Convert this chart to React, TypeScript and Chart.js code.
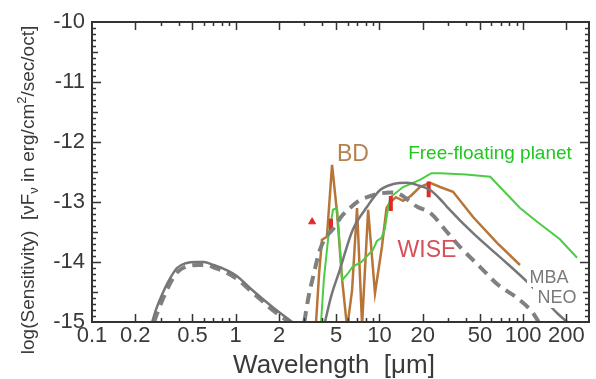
import React, { useEffect, useRef } from "react";
import { Chart, registerables } from "chart.js";
Chart.register(...registerables);

const FONT = "'Liberation Sans', Arial, Helvetica, sans-serif";

const xTickValues = [0.1, 0.2, 0.5, 1, 2, 5, 10, 20, 50, 100, 200];
const xTickLabels = ["0.1", "0.2", "0.5", "1", "2", "5", "10", "20", "50", "100", "200"];
const yTickValues = [-15, -14, -13, -12, -11, -10];

// MBA (solid gray)
const mbaReflLam = [0.262, 0.28, 0.31, 0.35, 0.39, 0.45, 0.53, 0.6, 0.7, 0.8, 1.0, 1.32, 1.8, 2.47];
const mbaReflVal = [-15, -14.78, -14.52, -14.27, -14.1, -14.02, -14.0, -14.0, -14.05, -14.1, -14.22, -14.48, -14.75, -15];
const mbaThermLam = [4.18, 4.6, 5.3, 6.5, 8.2, 10.1, 12.5, 15.6, 19, 22.5, 26.4, 29.5, 44.8, 77, 112, 172, 202];
const mbaThermVal = [-15, -14.58, -14.13, -13.47, -13.08, -12.8, -12.7, -12.68, -12.73, -12.8, -12.95, -13.08, -13.52, -14.02, -14.38, -14.85, -15];

// NEO (dashed gray)
const neoReflLam = [0.27, 0.29, 0.32, 0.36, 0.4, 0.46, 0.55, 0.62, 0.72, 0.82, 1.0, 1.3, 1.8, 2.35];
const neoReflVal = [-15, -14.8, -14.55, -14.3, -14.15, -14.07, -14.05, -14.05, -14.1, -14.15, -14.27, -14.5, -14.8, -15];
const neoThermLam = [3.0, 3.2, 3.45, 3.85, 4.2, 4.75, 5.4, 6.24, 7.2, 8.2, 10, 12, 13.5, 15.5, 18.3, 22.5, 29.5, 36.4, 50, 66.8, 90.8, 117, 128];
const neoThermVal = [-15, -14.6, -14.25, -13.8, -13.6, -13.45, -13.25, -13.1, -12.98, -12.92, -12.86, -12.84, -12.86, -12.95, -13.08, -13.18, -13.5, -13.75, -14.08, -14.38, -14.6, -14.85, -15];

// Brown dwarf (brown)
const bdLam = [3.6, 3.8, 3.98, 4.31, 4.68, 5.07, 5.5, 5.96, 6.45, 6.98, 7.57, 8.34, 9.31, 10.4, 11.2, 11.9, 13, 14.6, 16.5, 19.1, 22.5, 26.4, 32.5, 44.8, 65.8, 95];
const bdVal = [-15.1, -14.2, -13.63, -13.58, -12.38, -13.18, -14.3, -15.1, -14.47, -13.1, -15.05, -13.13, -14.52, -13.75, -13.1, -13.0, -12.92, -12.98, -12.9, -12.75, -12.68, -12.75, -12.83, -13.25, -13.68, -14.05];

// Free-floating planet (green)
const ffpLam = [3.9, 4.1, 4.4, 4.75, 5.07, 5.5, 6.0, 6.5, 7.5, 8.2, 9.0, 9.6, 10.3, 10.9, 11.3, 11.9, 14.6, 19.1, 23, 26.4, 40, 59, 95, 125, 180, 237];
const ffpVal = [-15.1, -14.3, -13.6, -13.13, -13.1, -14.3, -14.2, -14.08, -14.0, -13.9, -13.8, -13.65, -13.6, -13.45, -13.2, -12.92, -12.75, -12.63, -12.52, -12.52, -12.54, -12.58, -13.1, -13.33, -13.62, -13.93];

// WISE bands (red)
const wiseBand = [4.6, 12, 22];
const wiseTop = [-13.28, -12.9, -12.66];
const wiseBottom = [-13.5, -13.15, -12.92];
const wisePointLam = [3.4];
const wisePointVal = [-13.33];

const pts = (lam: number[], val: number[]) => lam.map((x, i) => ({ x, y: val[i] }));

const wiseSegments = () => {
  const out: any[] = [];
  wiseBand.forEach((b, i) => {
    out.push({ x: b, y: wiseTop[i] });
    out.push({ x: b, y: wiseBottom[i] });
    out.push({ x: b, y: null });
  });
  return out;
};

const framePlugin = {
  id: "frameTicks",
  afterDraw(chart: any) {
    const { ctx, chartArea } = chart;
    const { left, right, top, bottom } = chartArea;
    const xs = chart.scales.x;
    const ys = chart.scales.y;
    ctx.save();
    ctx.strokeStyle = "#333";
    ctx.lineWidth = 2;
    ctx.strokeRect(left, top, right - left, bottom - top);
    ctx.lineWidth = 1.5;
    ctx.beginPath();
    for (let d = -1; d <= 2; d++) {
      for (let m = 1; m <= 9; m++) {
        const v = m * Math.pow(10, d);
        if (v <= xs.min * 1.0001 || v >= xs.max) continue;
        const px = Math.round(xs.getPixelForValue(v)) + 0.5;
        const len = m === 1 || m === 2 || m === 5 ? 8 : 4;
        ctx.moveTo(px, bottom);
        ctx.lineTo(px, bottom - len);
        ctx.moveTo(px, top);
        ctx.lineTo(px, top + len);
      }
    }
    for (let k = 1; k < 50; k++) {
      const v = -15 + k * 0.1;
      const py = Math.round(ys.getPixelForValue(v)) + 0.5;
      const len = k % 10 === 0 ? 9 : k % 5 === 0 ? 6 : 4;
      ctx.moveTo(left, py);
      ctx.lineTo(left + len, py);
      ctx.moveTo(right, py);
      ctx.lineTo(right - len, py);
    }
    ctx.stroke();

    // axis titles
    ctx.fillStyle = "#3a3a3a";
    ctx.textBaseline = "middle";
    ctx.textAlign = "center";
    ctx.font = `26px ${FONT}`;
    ctx.fillText("Wavelength  [\u03bcm]", 334, 366);

    ctx.save();
    ctx.translate(29, 190);
    ctx.rotate(-Math.PI / 2);
    const parts = [
      { t: "log(Sensitivity)  [\u03bdF", s: 0 },
      { t: "\u03bd", s: -1 },
      { t: " in erg/cm", s: 0 },
      { t: "2", s: 1 },
      { t: "/sec/oct]", s: 0 },
    ];
    const big = `19px ${FONT}`;
    const small = `13px ${FONT}`;
    let total = 0;
    parts.forEach((p) => {
      ctx.font = p.s === 0 ? big : small;
      total += ctx.measureText(p.t).width;
    });
    let cx = -total / 2;
    ctx.textAlign = "left";
    parts.forEach((p) => {
      ctx.font = p.s === 0 ? big : small;
      const dy = p.s === 0 ? 0 : p.s > 0 ? -7 : 5;
      ctx.fillText(p.t, cx, dy);
      cx += ctx.measureText(p.t).width;
    });
    ctx.restore();
    ctx.restore();
  },
  afterDatasetsDraw(chart: any) {
    const { ctx } = chart;
    ctx.save();
    ctx.fillStyle = "#ffffff";
    ctx.fillRect(527, 265, 46, 22);
    ctx.fillRect(533, 287, 48, 21);
    ctx.textAlign = "center";
    ctx.textBaseline = "alphabetic";
    ctx.font = `23px ${FONT}`;
    ctx.fillStyle = "#b4824e";
    ctx.fillText("BD", 353, 161);
    ctx.font = `19px ${FONT}`;
    ctx.fillStyle = "#1ec81e";
    ctx.fillText("Free-floating planet", 490, 159);
    ctx.font = `23px ${FONT}`;
    ctx.fillStyle = "#d6505a";
    ctx.fillText("WISE", 427, 257);
    ctx.font = `18px ${FONT}`;
    ctx.fillStyle = "#7a7a7a";
    ctx.fillText("MBA", 549, 283);
    ctx.fillText("NEO", 557, 303);
    ctx.restore();
  },
};

export default function App() {
  const ref = useRef<HTMLCanvasElement>(null);
  useEffect(() => {
    if (!ref.current) return;
    const gray = "#767676";
    const dashGray = "#808080";
    const chart = new Chart(ref.current, {
      type: "scatter",
      data: {
        datasets: [
          { data: pts(mbaReflLam, mbaReflVal), showLine: true, borderColor: gray, borderWidth: 2.5, pointRadius: 0, cubicInterpolationMode: "monotone" } as any,
          { data: pts(mbaThermLam, mbaThermVal), showLine: true, borderColor: gray, borderWidth: 2.5, pointRadius: 0, cubicInterpolationMode: "monotone" } as any,
          { data: pts(neoReflLam, neoReflVal), showLine: true, borderColor: dashGray, borderWidth: 4, borderDash: [11, 7], pointRadius: 0, cubicInterpolationMode: "monotone" } as any,
          { data: pts(neoThermLam, neoThermVal), showLine: true, borderColor: dashGray, borderWidth: 4, borderDash: [11, 7], pointRadius: 0, cubicInterpolationMode: "monotone" } as any,
          { data: wiseSegments(), showLine: true, spanGaps: false, borderColor: "#e02a2a", borderWidth: 4, pointRadius: 0 } as any,
          { data: pts(wisePointLam, wisePointVal), showLine: false, pointStyle: "triangle", pointRadius: 4, backgroundColor: "#e02a2a", borderColor: "#e02a2a" } as any,
          { data: pts(ffpLam, ffpVal), showLine: true, borderColor: "#4ccc44", borderWidth: 2, pointRadius: 0 } as any,
          { data: pts(bdLam, bdVal), showLine: true, borderColor: "rgba(180,110,45,0.95)", borderWidth: 2.5, pointRadius: 0 } as any,
        ],
      },
      options: {
        animation: false,
        responsive: false,
        layout: { padding: { left: 0, top: 22, right: 7, bottom: 0 } },
        plugins: { legend: { display: false }, tooltip: { enabled: false }, title: { display: false } },
        scales: {
          x: {
            type: "logarithmic",
            min: 0.1,
            max: 287,
            grid: { display: false, drawTicks: false },
            border: { display: false },
            afterBuildTicks: (s: any) => {
              s.ticks = xTickValues.map((v) => ({ value: v }));
            },
            afterFit: (s: any) => {
              s.height = 57;
            },
            ticks: {
              autoSkip: false,
              maxRotation: 0,
              minRotation: 0,
              padding: 1,
              color: "#3a3a3a",
              font: { family: FONT, size: 22 },
              callback: (v: any) => {
                const i = xTickValues.indexOf(Number(v));
                return i >= 0 ? xTickLabels[i] : "";
              },
            },
          },
          y: {
            type: "linear",
            min: -15,
            max: -10,
            grid: { display: false, drawTicks: false },
            border: { display: false },
            afterBuildTicks: (s: any) => {
              s.ticks = yTickValues.map((v) => ({ value: v }));
            },
            afterFit: (s: any) => {
              s.width = 92;
            },
            ticks: {
              padding: 7,
              color: "#3a3a3a",
              font: { family: FONT, size: 22 },
              callback: (v: any) => String(v),
            },
          },
        },
      } as any,
      plugins: [framePlugin],
    });
    return () => chart.destroy();
  }, []);
  return (
    <div style={{ position: "fixed", left: 0, top: 0, width: 596, height: 379, background: "#fff" }}>
      <canvas ref={ref} width={596} height={379} style={{ display: "block" }} />
    </div>
  );
}
